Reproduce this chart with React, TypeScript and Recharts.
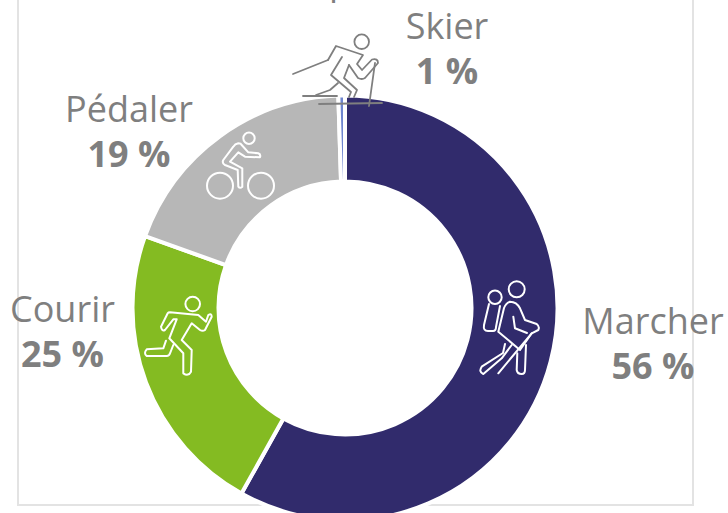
import { Cell, Pie, PieChart } from 'recharts';

const WIDTH = 728;
const HEIGHT = 513;

const activities = ['Marcher', 'Courir', 'Pédaler', 'Skier'];
const percentLabels = ['56 %', '25 %', '19 %', '1 %'];
// share of the ring as measured on the picture, not the printed percentages
const arcShares = [58.1, 22.4, 19.0, 0.5];
const colors = ['#312b6c', '#84bb22', '#b7b7b7', '#6f86cf'];

const rows = activities.map((name, i) => ({ name, share: arcShares[i] }));

const LABEL_X = [653, 62.5, 129, 447];
const LABEL_Y = [334, 322, 122, 39];

function SliceLabel({ index }: { index: number }) {
  const x = LABEL_X[index];
  const y = LABEL_Y[index];
  return (
    <text textAnchor="middle" fill="#7f7f7f" style={{ fontFamily: '"Open Sans"', fontSize: 36 }}>
      <tspan x={x} y={y}>{activities[index]}</tspan>
      <tspan x={x} y={y + 45} fontWeight={700}>{percentLabels[index]}</tspan>
    </text>
  );
}

function Icons() {
  const line = { fill: 'none', strokeWidth: 2, strokeLinecap: 'round', strokeLinejoin: 'round' } as const;
  return (
    <svg width={WIDTH} height={HEIGHT} style={{ position: 'absolute', left: 0, top: 0 }}>
      {/* title is cut off by the top of the picture, only this descender shows */}
      <text x={329} y={-6} fill="#7f7f7f" style={{ fontFamily: '"Open Sans"', fontSize: 36 }}>p</text>
      {/* skier */}
      <g {...line} stroke="#7f7f7f" strokeWidth={1.8}>
        <circle cx={361.7} cy={41.7} r={7.3} />
        <path d="M293 74 L328 60" />
        <path d="M328 60 L336 46 L363 55 L357 64 L362 70 L372 59.5 Q378 58 378 63 L365 78 Q362 80 358 78 L349 65" />
        <path d="M349 65 L344 78 L357 90 L354 97" />
        <path d="M342 57 L331 75 L351 92 L349 97" />
        <path d="M338 83 L330 90 L316 95" />
        <path d="M375 63 L369 106" />
        <path d="M303 96 L337 96" />
        <path d="M319 104 L382 103" />
      </g>
      {/* hiker */}
      <g {...line} stroke="#ffffff">
        <circle cx={516.7} cy={289.3} r={8} />
        <circle cx={495} cy={297.3} r={6.7} />
        <path d="M489 304 L484 325 Q483 331 488 331 L493 331 Q496 331 496 327 L500 306" />
        <path d="M510 301.7 Q506 303 504 308 L498.3 331.7 L520 350 L531.7 333.3 L538.3 330 Q540 326.7 536.7 324 L525 320 L520 308.3 Q516.7 301.7 510 301.7 Z" />
        <path d="M513.3 316.7 L515 328.3 L527 333" />
        <path d="M505 344 L503 353 L481.7 366.7 Q478.3 371.7 483.3 374 L501.7 358.3 L511.7 345" />
        <path d="M517.3 353.3 L516.7 370 Q517.3 374 521.7 374 Q525 374 525 370 L526 345" />
        <path d="M531.7 333.3 L498.3 373.3" />
      </g>
      {/* runner */}
      <g {...line} stroke="#ffffff">
        <circle cx={192.7} cy={304} r={7.3} />
        <path d="M170 312.3 L198.3 315 L206 321.7 L208.3 315 Q211.7 312.7 211.7 316.7 L205 330 Q202.7 331.7 200 330 L191.7 323.3 L181.7 340 L191.7 350 L191 371.7 Q188.3 376.7 183.3 373.3 L183.3 353.3 L169.3 338.3 L176.7 319.3 L173.3 319.3 L165 330 Q161.7 331.7 161 326.7 L167.7 313.3 Q168.3 312.3 170 312.3 Z" />
        <path d="M166 340.7 L163.3 348.3 L146.7 349.3 Q143.3 353.3 146.7 356 L166.7 356 Q169.3 356 170 353.3 L173.3 345" />
      </g>
      {/* cyclist */}
      <g {...line} stroke="#ffffff">
        <circle cx={249} cy={138.3} r={5.7} />
        <circle cx={220} cy={185.7} r={13} />
        <circle cx={261} cy={185.7} r={13} />
        <path d="M238.3 143.3 Q235 144 233.3 146.7 L223.3 160 Q221.7 163.3 225 165 L237.7 170 L238.3 186.7 Q240 189 242.3 186.7 L242.3 168.3 L230 161.7 L238.3 152.3 L245 156.7 L260 157.3 Q261 154.3 258.3 153.3 L248.3 152.3 L241.7 145 Q241 143.3 238.3 143.3 Z" />
      </g>
    </svg>
  );
}

export default function App() {
  return (
    <div style={{ position: 'fixed', left: 0, top: 0, width: WIDTH, height: HEIGHT, overflow: 'hidden', background: '#fff' }}>
      <div style={{ position: 'absolute', left: 17, top: -4, width: 673, height: 506, border: '2px solid #e3e3e3' }} />
      <div style={{ position: 'absolute', left: 0, top: 0 }}>
        <PieChart width={WIDTH} height={HEIGHT} margin={{ top: 0, right: 0, bottom: 0, left: 0 }} style={{ overflow: 'hidden' }}>
          <Pie
            data={rows}
            dataKey="share"
            nameKey="name"
            cx={345}
            cy={308}
            innerRadius={126.5}
            outerRadius={212.5}
            startAngle={90}
            endAngle={-270}
            stroke="#ffffff"
            strokeWidth={4}
            isAnimationActive={false}
            labelLine={false}
            label={SliceLabel}
          >
            {rows.map((r, i) => (
              <Cell key={r.name} fill={colors[i]} />
            ))}
          </Pie>
        </PieChart>
      </div>
      <Icons />
    </div>
  );
}
